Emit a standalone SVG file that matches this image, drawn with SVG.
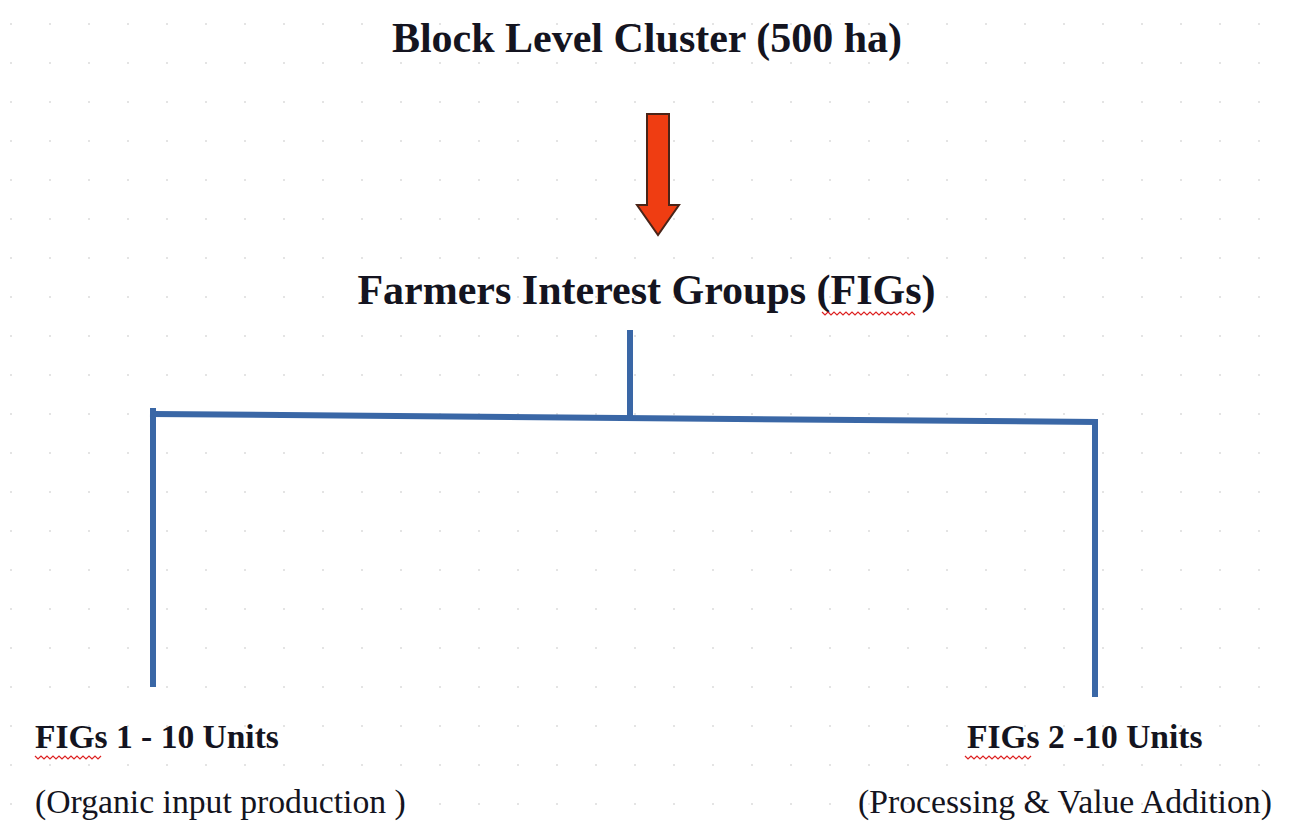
<svg xmlns="http://www.w3.org/2000/svg" width="1290" height="822" viewBox="0 0 1290 822">
  <defs>
    <pattern id="grid" x="10" y="23" width="39" height="39" patternUnits="userSpaceOnUse">
      <rect x="0" y="0" width="2" height="2" fill="#e4e4e4"/>
    </pattern>
    <style>
      .title { font-family: "Liberation Serif", "Times New Roman", serif; font-weight: bold; font-size: 42px; fill: #141420; }
      .label { font-family: "Liberation Serif", "Times New Roman", serif; font-weight: bold; font-size: 33.5px; fill: #141420; }
      .sub { font-family: "Liberation Serif", "Times New Roman", serif; font-size: 33.7px; fill: #141420; }
      .conn { stroke: #3a67a6; stroke-width: 6; fill: none; stroke-linecap: square; }
      .squig { stroke: #d22; stroke-width: 1.2; fill: none; }
    </style>
  </defs>
  <rect width="1290" height="822" fill="#ffffff"/>
  <rect width="1290" height="822" fill="url(#grid)"/>

  <g id="block-level-cluster">
    <text class="title" x="647" y="52" text-anchor="middle">Block Level Cluster (500 ha)</text>
  </g>

  <g id="arrow">
    <polygon points="647,114 669,114 669,205 679,205 658,235 637,205 647,205" fill="#ef3d12" stroke="#4a2418" stroke-width="2" stroke-linejoin="miter"/>
  </g>

  <g id="figs">
    <text class="title" x="646.5" y="304" text-anchor="middle">Farmers Interest Groups (FIGs)</text>
    <path class="squig" d="M822,312 l3,3 l3,-3 l3,3 l3,-3 l3,3 l3,-3 l3,3 l3,-3 l3,3 l3,-3 l3,3 l3,-3 l3,3 l3,-3 l3,3 l3,-3 l3,3 l3,-3 l3,3 l3,-3 l3,3 l3,-3 l3,3 l3,-3 l3,3 l3,-3 l3,3 l3,-3 l3,3 l3,-3 l3,3"/>
  </g>

  <g id="connectors">
    <line class="conn" x1="630" y1="333" x2="630" y2="417"/>
    <line class="conn" x1="153" y1="414" x2="1095" y2="422"/>
    <line class="conn" x1="153" y1="411" x2="153" y2="684"/>
    <line class="conn" x1="1095" y1="422" x2="1095" y2="694"/>
  </g>

  <g id="figs1">
    <text class="label" x="35" y="748">FIGs 1 - 10 Units</text>
    <path class="squig" d="M35,756 l3,3 l3,-3 l3,3 l3,-3 l3,3 l3,-3 l3,3 l3,-3 l3,3 l3,-3 l3,3 l3,-3 l3,3 l3,-3 l3,3 l3,-3 l3,3 l3,-3 l3,3 l3,-3 l3,3 l3,-3"/>
    <text class="sub" x="35" y="813">(Organic input production )</text>
  </g>

  <g id="figs2">
    <text class="label" x="967" y="748">FIGs 2 -10 Units</text>
    <path class="squig" d="M965,756 l3,3 l3,-3 l3,3 l3,-3 l3,3 l3,-3 l3,3 l3,-3 l3,3 l3,-3 l3,3 l3,-3 l3,3 l3,-3 l3,3 l3,-3 l3,3 l3,-3 l3,3 l3,-3 l3,3 l3,-3"/>
    <text class="sub" x="858" y="813">(Processing &amp; Value Addition)</text>
  </g>
</svg>
